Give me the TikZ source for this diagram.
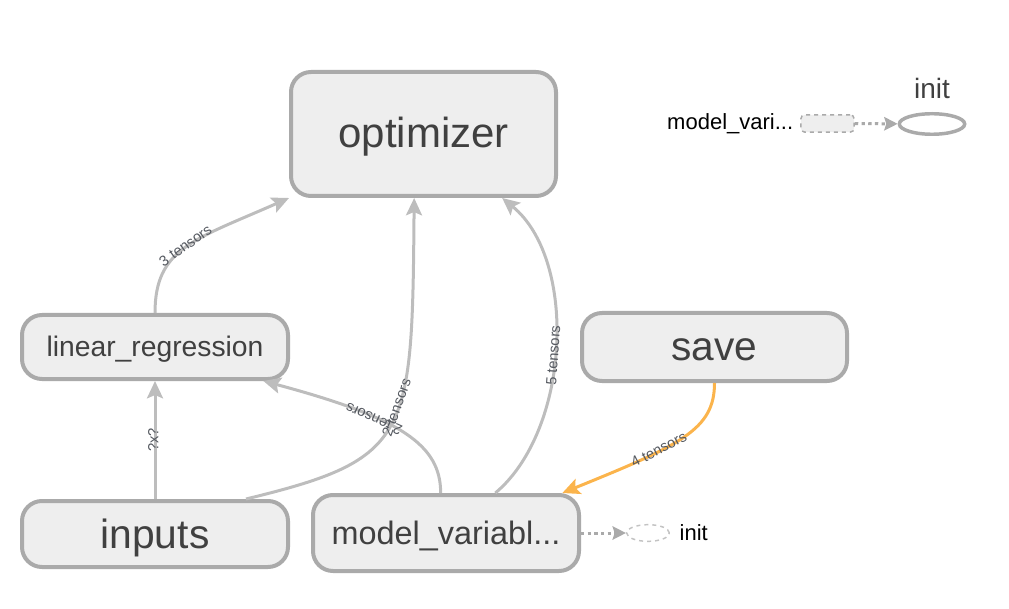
\documentclass[tikz,border=0pt]{standalone}
\usepackage{fontspec}
\setmainfont{Liberation Sans}
\usepackage{tikz}
\usetikzlibrary{arrows.meta,positioning,shapes.geometric}
\definecolor{nodefill}{HTML}{EEEEEE}
\definecolor{nodeline}{HTML}{AAAAAA}
\definecolor{edgeline}{HTML}{BDBDBD}
\definecolor{hot}{HTML}{FBB44C}
\definecolor{ink}{HTML}{404040}
\definecolor{lblink}{HTML}{555960}
\tikzset{>/.tip={Stealth[length=13pt,width=12pt,inset=2.5pt]}}
\tikzset{d>/.tip={Stealth[length=10pt,width=10pt,inset=1.5pt]}}
\tikzset{op/.style={draw=nodeline,fill=nodefill,line width=3pt,rounded corners=15pt,text=ink,minimum width=199.5pt,inner sep=0pt,text depth=0pt}}
\tikzset{flow/.style={draw=edgeline,line width=2.25pt,->}}
\tikzset{ctrl/.style={draw=nodeline,line width=2.25pt,dash pattern=on 2.5pt off 2.5pt,-d>}}
\tikzset{lbl/.style={font=\fontsize{11}{12}\selectfont,text=lblink,sloped,inner sep=0pt,anchor=base,yshift=-2.5pt}}
\def\big#1{\fontsize{#1}{#1}\selectfont}

\begin{document}
\begin{tikzpicture}[x=0.75pt,y=0.75pt]
        \useasboundingbox (0,0) rectangle (1009,-609);
        \node(opt)[op,minimum width=198.75pt,minimum height=93pt,text height=21pt,font=\big{31.5}] at (423.5,-134){optimizer};
        \node(lr)[op,minimum height=48pt,text height=14.3pt,font=\big{21.2}] at (155,-347){linear\_regression};
        \node(inputs)[op,minimum height=49.5pt,text height=21pt,font=\big{30.6}] at (155,-534){inputs};
        \node(mv)[op,minimum height=57pt,text height=16.5pt,font=\big{24.3}] at (446,-533){model\_variabl...};
        \node(save)[op,minimum width=198.75pt,minimum height=51pt,text height=20.6pt,font=\big{30.5}] at (714.5,-347){save};
        \node(mvbox)[draw=nodeline,dashed,fill=nodefill,rounded corners=3pt,line width=1.1pt,minimum width=40pt,minimum height=13pt,inner sep=0pt] at (827.5,-123.5){};
        \node(mvname)[left=5pt of mvbox,inner sep=0pt,font=\big{16.5}]{model\_vari...};
        \node(init)[ellipse,draw=nodeline,line width=2.6pt,minimum width=49pt,minimum height=15.4pt,inner sep=0pt] at (932,-124){};
        \node(inittext)[above=10pt of init,inner sep=0pt,text=ink,font=\big{21}]{init};
        \node(mvinit)[ellipse,draw=nodeline!70,dashed,line width=1.1pt,minimum width=32pt,minimum height=12.5pt,inner sep=0pt] at (648,-533){};
        \node(mvinittext)[right=7pt of mvinit,inner sep=0pt,font=\big{16.5}]{init};
        \draw[flow] (inputs) -- node[lbl]{?x?} (lr);
        \draw[flow] (lr.north) .. controls +(0,65) and +(-95,-42) .. node[lbl,pos=.5]{3 tensors} (opt.south west);
        \draw[flow] ([xshift=-33pt]inputs.north east) .. controls +(165,40) and +(-2,-240) .. node[lbl,pos=.56]{2 tensors} ([xshift=-7pt]opt.south);
        \draw[flow] ([xshift=-4pt]mv.north) .. controls +(0,48) and +(138,-37) .. node[lbl,pos=.65,allow upside down]{2 tensors} ([xshift=-20pt]lr.south east);
        \draw[flow] ([xshift=37pt]mv.north) .. controls +(75,63) and +(76,-62) .. node[lbl,pos=.47]{5 tensors} ([xshift=59pt]opt.south);
        \draw[flow,draw=hot] (save.south) .. controls +(0,-47) and +(118,48) .. node[lbl,pos=.64]{4 tensors} ([xshift=-14pt]mv.north east);
        \draw[ctrl] (mvbox) -- (init);
        \draw[ctrl] (mv) -- (mvinit);
      \end{tikzpicture}
\end{document}
